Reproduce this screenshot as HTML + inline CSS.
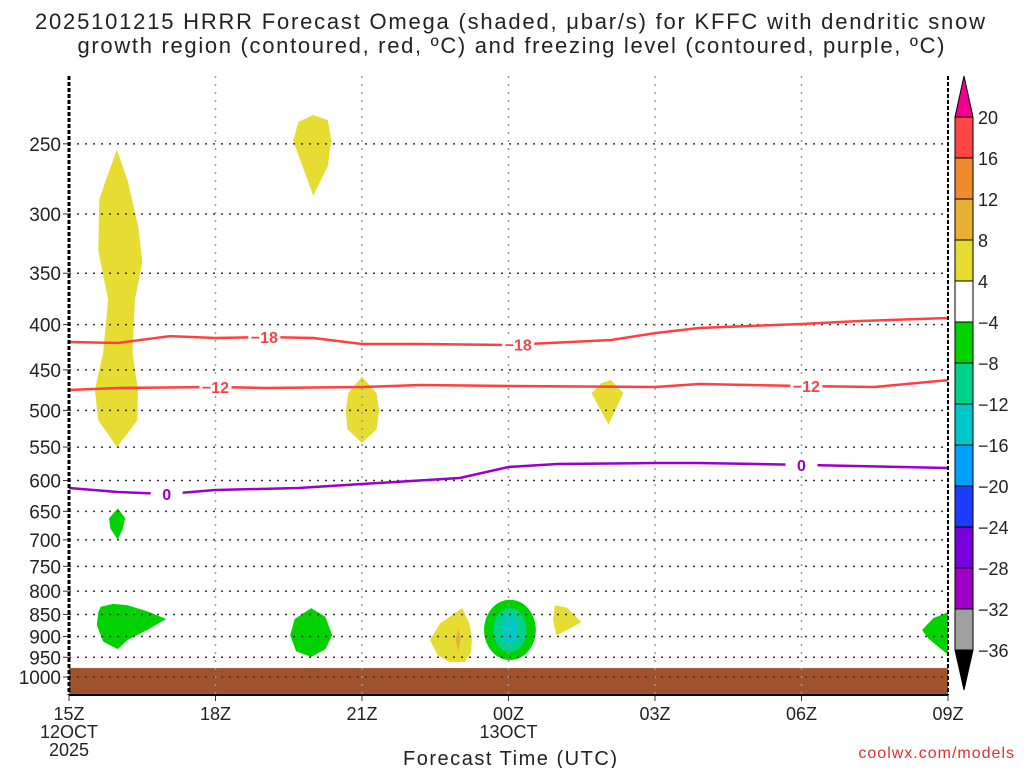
<!DOCTYPE html>
<html><head><meta charset="utf-8"><style>
html,body{margin:0;padding:0;background:#fff;width:1024px;height:768px;overflow:hidden}
svg{display:block;font-family:"Liberation Sans",sans-serif}
</style></head><body>
<svg id="c" width="1024" height="768">
<text x="510" y="29" text-anchor="middle" font-size="22" fill="#222" textLength="950" lengthAdjust="spacing">2025101215 HRRR Forecast Omega (shaded, μbar/s) for KFFC with dendritic snow</text>
<text x="511" y="53" text-anchor="middle" font-size="22" fill="#222" textLength="867" lengthAdjust="spacing">growth region (contoured, red, ºC) and freezing level (contoured, purple, ºC)</text>
<text x="510" y="765" text-anchor="middle" font-size="20" fill="#222" textLength="214" lengthAdjust="spacing">Forecast Time (UTC)</text>
<text x="1015" y="758" text-anchor="end" font-size="16" fill="#e03030" letter-spacing="1">coolwx.com/models</text>
</svg>
<script>
const pLabels=[250,300,350,400,450,500,550,600,650,700,750,800,850,900,950,1000];
const xTickHours=[0,3,6,9,12,15,18];
const xTickLabels=["15Z","18Z","21Z","00Z","03Z","06Z","09Z"];
const cbLevels=["20","16","12","8","4","−4","−8","−12","−16","−20","−24","−28","−32","−36"];
const cbColors=["#ff4545","#f08a2c","#e8b032","#e6dc32","#ffffff","#00d200","#00d28c","#00c8c8","#00a0ff","#1e3cff","#7800dc","#a000c8","#a0a0a0"];
const surfaceP=977;
const isoM18Hours=[0,1,2.07,3,4,5,6,7.2,9,11.1,12,12.9,15,16.2,18];
const isoM18Press=[418.5,419.6,412.1,414.2,413.1,414.2,420.7,420.7,421.8,416.4,408.9,403.6,399.4,396.3,393.2];
const isoM12Hours=[0,1,3,4,6,7.2,9,12,12.9,15,16.5,18];
const isoM12Press=[474.2,471.7,470.5,471.7,470.5,468,469.3,470.5,466.8,469.3,470.5,462.1];
const iso0Hours=[0,1,2,3,4.7,6,8,9,10,12,12.9,15,18];
const iso0Press=[611.8,618.2,621.4,615,611.8,605.4,596.1,579.2,574.7,573.2,573.2,576.1,580.8];
const blobColors=["#e6dc32","#e6dc32","#e6dc32","#e6dc32","#00d200","#00d200","#00d200","#e6dc32","#e8b032","#e6dc32","#00d200"];
const blobHours=[
[0.98,1.2,1.42,1.5,1.35,1.3,1.41,1.4,0.98,0.6,0.53,0.7,0.8,0.6,0.62,0.75],
[4.7,5.0,5.3,5.37,5.3,5.0,4.75,4.59],
[6.0,6.3,6.35,6.3,6.0,5.7,5.67,5.72],
[10.7,10.9,11.1,11.35,11.05],
[1.0,1.15,1.1,1.0,0.85,0.82],
[0.65,0.9,1.2,1.6,1.99,1.6,1.2,1.0,0.7,0.57,0.6],
[4.96,5.25,5.39,5.25,4.96,4.65,4.53,4.62],
[8.05,8.2,8.25,8.23,8.1,7.8,7.55,7.39,7.6],
[7.97,8.02,7.97,7.92],
[9.95,10.2,10.49,10.2,9.98,9.91],
[18,17.7,17.47,17.6,18]];
const blobPress=[
[254,275,310,340,375,430,474,513,550,513,474,430,375,330,289,275],
[236,232,235,248,265,286,262,248],
[458,478,500,525,544,525,500,478],
[478,466,462,478,519],
[645,662,680,700,680,662],
[833,827,830,843,860,885,908,930,912,874,845],
[836,855,897,930,949,935,897,860],
[836,870,905,940,962,962,945,908,870],
[880,908,937,908],
[830,835,867,885,897,862],
[845,858,885,905,944]];
const ellCenterH=[9.03,9.03,9.03];
const ellCenterP=[885,885,885];
const ellHalfH=[0.53,0.34,0.16];
const ellTopP=[818,836,850];
const ellBotP=[957,937,920];
const ellColors=["#00d200","#00d28c","#00c8c8"];

const X0=69,X1=948,YT=76,YB=695;
const xs=h=>X0+h*(X1-X0)/18;
const ys=p=>677-384.6*Math.log(1000/p);
const svg=document.getElementById('c');
const NS="http://www.w3.org/2000/svg";
function mk(t,a,parent){const e=document.createElementNS(NS,t);for(const k in a)e.setAttribute(k,a[k]);(parent||svg).appendChild(e);return e;}

blobHours.forEach((hs,i)=>{
  const pts=hs.map((h,j)=>xs(h).toFixed(1)+","+ys(blobPress[i][j]).toFixed(1)).join(" ");
  const e=mk('polygon',{points:pts,fill:blobColors[i]});
  
  
});
ellCenterH.forEach((h,i)=>{
  const t=ys(ellTopP[i]),b=ys(ellBotP[i]);
  const e=mk('ellipse',{cx:xs(h),cy:(t+b)/2,rx:xs(ellHalfH[i])-xs(0),ry:(b-t)/2,fill:ellColors[i]});
  
  
});
const g=mk('rect',{x:X0,y:ys(surfaceP),width:X1-X0,height:YB-ys(surfaceP),fill:"#a0522d"});



pLabels.forEach(p=>{
  const y=ys(p);
  const l=mk('line',{x1:X0,x2:X1,y1:y,y2:y,stroke:"#333","stroke-dasharray":"2,6","stroke-width":1.5});
  
  
  mk('line',{x1:X0-6,x2:X0,y1:y,y2:y,stroke:"#333"});
  const t=mk('text',{x:X0-8,y:y+7,"text-anchor":"end","font-size":19,fill:"#222"});
  t.textContent=p;
  
  
});
xTickHours.forEach((h,i)=>{
  const x=xs(h);
  if(i>0&&i<xTickHours.length-1){
    const l=mk('line',{x1:x,x2:x,y1:YT,y2:YB,stroke:"#999","stroke-dasharray":"2,6","stroke-width":1.5});
    
    
  }
  mk('line',{x1:x,x2:x,y1:YB,y2:YB+6,stroke:"#333"});
  const t=mk('text',{x:x,y:YB+25,"text-anchor":"middle","font-size":18,fill:"#222"});
  t.textContent=xTickLabels[i];
  
  
});
[[X0,"12OCT",YB+43],[X0,"2025",YB+61],[xs(9),"13OCT",YB+43]].forEach(([x,s,y])=>{
  const t=mk('text',{x:x,y:y,"text-anchor":"middle","font-size":18,fill:"#222"});t.textContent=s;
  
  
});

function contour(hs,ps,color,name,labels,txt){
  const d=hs.map((h,j)=>(j?"L":"M")+xs(h).toFixed(1)+","+ys(ps[j]).toFixed(1)).join(" ");
  const e=mk('path',{d:d,fill:"none",stroke:color,"stroke-width":2.5});
  
  
  labels.forEach(h=>{
    let j=0;while(j<hs.length-2&&hs[j+1]<h)j++;
    const f=(h-hs[j])/(hs[j+1]-hs[j]);const p=ps[j]+f*(ps[j+1]-ps[j]);
    const x=xs(h),y=ys(p);
    mk('rect',{x:x-16,y:y-8,width:32,height:16,fill:"#fff"});
    const t=mk('text',{x:x,y:y+6,"text-anchor":"middle","font-size":16,"font-weight":"bold",fill:color});
    t.textContent=txt;
    
    
  });
}
contour(isoM18Hours,isoM18Press,"#ff4040","contour-minus18",[4,9.2],"−18");
contour(isoM12Hours,isoM12Press,"#ff4040","contour-minus12",[3,15.1],"−12");
contour(iso0Hours,iso0Press,"#9900cc","freezing-level",[2,15],"0");

mk('line',{x1:X0,x2:X0,y1:YT,y2:YB,stroke:"#000","stroke-width":3,"stroke-dasharray":"4,2"});
mk('line',{x1:X1,x2:X1,y1:YT,y2:YB,stroke:"#000","stroke-width":2,"stroke-dasharray":"4,2"});
mk('line',{x1:X0,x2:X1,y1:YB,y2:YB,stroke:"#000","stroke-width":2});

const cx=955,cw=18,cTop=117,cBot=650,bh=(cBot-cTop)/cbColors.length;
const tri=mk('polygon',{points:`${cx},${cTop} ${cx+cw},${cTop} ${cx+cw/2},76`,fill:"#f0008c",stroke:"#000"});


cbColors.forEach((c,i)=>{
  const r=mk('rect',{x:cx,y:cTop+i*bh,width:cw,height:bh,fill:c,stroke:"#000"});
  
  
});
const tri2=mk('polygon',{points:`${cx},${cBot} ${cx+cw},${cBot} ${cx+cw/2},690`,fill:"#000",stroke:"#000"});


cbLevels.forEach((s,i)=>{
  const t=mk('text',{x:cx+cw+5,y:cTop+i*bh+7,"font-size":18,fill:"#222"});
  t.textContent=s;
  
  
});
</script>
</body></html>
